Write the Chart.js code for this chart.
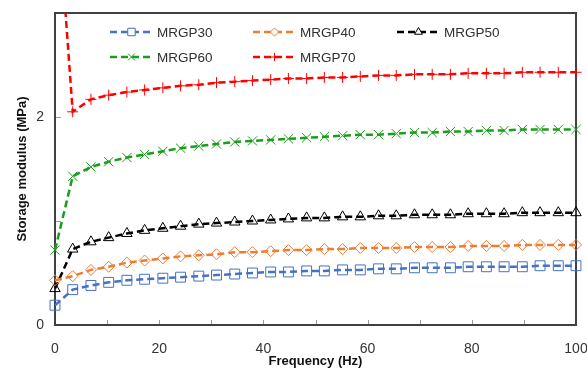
<!DOCTYPE html>
<html><head><meta charset="utf-8">
<script src="https://cdn.jsdelivr.net/npm/chart.js@4.4.0/dist/chart.umd.min.js"></script>
<style>html,body{margin:0;padding:0;background:#fff}#wrap{width:587px;height:369px}</style>
</head><body><div id="wrap"><canvas id="c" width="587" height="369"></canvas></div>
<script>
const frequency = [0, 3.4, 6.9, 10.3, 13.8, 17.2, 20.7, 24.1, 27.6, 31.0, 34.5, 37.9, 41.4, 44.8, 48.3, 51.7, 55.2, 58.6, 62.1, 65.5, 69.0, 72.4, 75.9, 79.3, 82.8, 86.2, 89.7, 93.1, 96.6, 100];
const mrgp30 = [0.19, 0.34, 0.38, 0.41, 0.43, 0.44, 0.45, 0.46, 0.47, 0.48, 0.49, 0.50, 0.51, 0.51, 0.52, 0.52, 0.53, 0.53, 0.54, 0.54, 0.55, 0.55, 0.55, 0.56, 0.56, 0.56, 0.56, 0.57, 0.57, 0.57];
const mrgp40 = [0.43, 0.47, 0.53, 0.56, 0.60, 0.62, 0.64, 0.66, 0.67, 0.68, 0.70, 0.70, 0.71, 0.72, 0.72, 0.73, 0.73, 0.74, 0.74, 0.74, 0.75, 0.75, 0.75, 0.76, 0.76, 0.76, 0.77, 0.77, 0.77, 0.77];
const mrgp50 = [0.35, 0.73, 0.80, 0.84, 0.88, 0.91, 0.93, 0.95, 0.97, 0.98, 0.99, 1.00, 1.01, 1.02, 1.03, 1.03, 1.04, 1.04, 1.05, 1.05, 1.06, 1.06, 1.06, 1.07, 1.07, 1.07, 1.08, 1.08, 1.08, 1.08];
const mrgp60 = [0.72, 1.43, 1.52, 1.57, 1.61, 1.64, 1.67, 1.70, 1.72, 1.74, 1.76, 1.77, 1.78, 1.79, 1.80, 1.81, 1.82, 1.83, 1.83, 1.84, 1.85, 1.85, 1.86, 1.86, 1.87, 1.87, 1.88, 1.88, 1.88, 1.88];
const mrgp70 = [4.4, 2.05, 2.17, 2.21, 2.24, 2.26, 2.28, 2.30, 2.31, 2.33, 2.34, 2.35, 2.36, 2.37, 2.37, 2.38, 2.38, 2.39, 2.40, 2.40, 2.41, 2.41, 2.41, 2.42, 2.42, 2.42, 2.43, 2.43, 2.43, 2.43];
const seriesNames = ['MRGP30', 'MRGP40', 'MRGP50', 'MRGP60', 'MRGP70'];
const yTickLabels = [0, 2];
const xTitle = 'Frequency (Hz)';
const yTitle = 'Storage modulus (MPa)';

const colors = ['#4472C4', '#ED7D31', '#000000', '#1A9E1A', '#FF0000'];
const styles = ['rect', 'rectRot', 'triangle', 'crossRot', 'cross'];
const radii = [7, 5.5, 6, 6.5, 5.5];
const values = [mrgp30, mrgp40, mrgp50, mrgp60, mrgp70];
const FONT = '"Liberation Sans", Arial, sans-serif';

const datasets = seriesNames.map((name, i) => ({
  label: name,
  data: frequency.map((f, k) => ({x: f, y: values[i][k]})),
  borderColor: colors[i],
  backgroundColor: 'rgba(255,255,255,0)',
  borderWidth: 2.5,
  borderDash: [7, 4],
  pointStyle: styles[i],
  pointRadius: radii[i],
  pointBorderWidth: 1,
  pointBorderColor: colors[i],
  pointBackgroundColor: 'rgba(255,255,255,0)',
  tension: 0,
  clip: {left: 10, right: 10, bottom: 10, top: 0}
}));

const framePlugin = {
  id: 'frame',
  beforeDatasetsDraw(chart) {
    const {ctx, chartArea: a, scales} = chart;
    ctx.save();
    ctx.strokeStyle = '#9a9a9a';
    ctx.lineWidth = 1;
    for (let v = 10; v < 100; v += 10) {
      const px = Math.round(scales.x.getPixelForValue(v)) + 0.5;
      ctx.beginPath(); ctx.moveTo(px, a.bottom); ctx.lineTo(px, a.bottom - 5); ctx.stroke();
    }
    for (let v = 1; v < 3; v += 1) {
      const py = Math.round(scales.y.getPixelForValue(v)) + 0.5;
      ctx.beginPath(); ctx.moveTo(a.left, py); ctx.lineTo(a.left + 6, py); ctx.stroke();
    }
    ctx.strokeStyle = '#404040';
    ctx.lineWidth = 2;
    ctx.strokeRect(a.left, a.top, a.right - a.left, a.bottom - a.top);
    ctx.restore();
  }
};

const legendPlugin = {
  id: 'customLegend',
  afterDraw(chart) {
    const ctx = chart.ctx;
    const cols = [110, 253, 397];
    const rows = [32, 57];
    ctx.save();
    chart.data.datasets.forEach((ds, i) => {
      const x0 = cols[i % 3];
      const y0 = rows[Math.floor(i / 3)];
      ctx.strokeStyle = ds.borderColor;
      ctx.lineWidth = 2.5;
      ctx.setLineDash([7, 4]);
      ctx.beginPath(); ctx.moveTo(x0, y0); ctx.lineTo(x0 + 43, y0); ctx.stroke();
      ctx.setLineDash([]);
      ctx.strokeStyle = ds.borderColor;
      ctx.lineWidth = 1;
      ctx.fillStyle = 'rgba(255,255,255,1)';
      Chart.helpers.drawPoint(ctx, {pointStyle: ds.pointStyle, radius: ds.pointRadius * 0.75, borderWidth: 1, rotation: 0}, x0 + 21.5, y0);
      ctx.fillStyle = '#303030';
      ctx.font = '13.5px ' + FONT;
      ctx.textBaseline = 'middle';
      ctx.textAlign = 'left';
      ctx.fillText(ds.label, x0 + 47, y0 + 1);
    });
    ctx.restore();
  }
};

new Chart(document.getElementById('c'), {
  type: 'line',
  data: {datasets},
  options: {
    responsive: false,
    animation: false,
    devicePixelRatio: 1,
    layout: {padding: {top: 13, right: 11, left: 0, bottom: 0}},
    plugins: {legend: {display: false}, tooltip: {enabled: false}},
    scales: {
      x: {
        type: 'linear', min: 0, max: 100,
        grid: {display: false, drawTicks: false},
        border: {display: false},
        ticks: {stepSize: 20, padding: 16, color: '#333', font: {family: FONT, size: 14}},
        title: {display: true, text: xTitle, color: '#111', padding: {top: 0, bottom: 0}, font: {family: FONT, size: 13, weight: 'bold'}},
        afterFit(s) { s.height = 44; s.paddingLeft = 0; s.paddingRight = 0; }
      },
      y: {
        min: 0, max: 3,
        grid: {display: false, drawTicks: false},
        border: {display: false},
        ticks: {stepSize: 1, padding: 11, color: '#333', font: {family: FONT, size: 14},
          callback: v => yTickLabels.includes(v) ? String(v) : ''},
        title: {display: true, text: yTitle, color: '#111', padding: {top: 15, bottom: 0}, font: {family: FONT, size: 13, weight: 'bold'}},
        afterFit(s) { s.width = 55; s.paddingTop = 0; s.paddingBottom = 0; }
      }
    }
  },
  plugins: [framePlugin, legendPlugin]
});
</script>
</body></html>
